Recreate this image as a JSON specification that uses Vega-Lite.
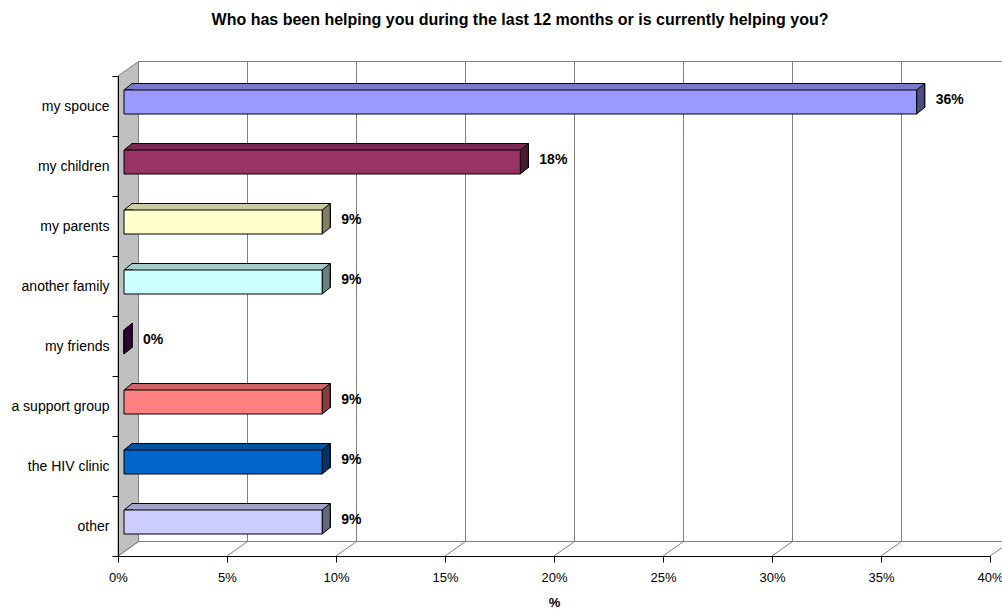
{
  "$schema": "https://vega.github.io/schema/vega-lite/v6.json",
  "width": 872,
  "height": 480,
  "autosize": {"type": "none"},
  "padding": {"left": 118, "top": 76, "right": 12, "bottom": 53},
  "background": "white",
  "title": {
    "text": "Who has been helping you during the last 12 months or is currently helping you?",
    "fontSize": 16, "fontWeight": "bold", "font": "Liberation Sans", "color": "black",
    "anchor": "middle", "frame": "group", "dx": -34, "offset": 32
  },
  "config": {"view": {"stroke": null}, "font": "Liberation Sans"},
  "datasets": {
    "answers": [
      {"who": "my spouce", "share": 0.3636},
      {"who": "my children", "share": 0.1818},
      {"who": "my parents", "share": 0.0909},
      {"who": "another family", "share": 0.0909},
      {"who": "my friends", "share": 0},
      {"who": "a support group", "share": 0.0909},
      {"who": "the HIV clinic", "share": 0.0909},
      {"who": "other", "share": 0.0909}
    ],
    "ticks": [
      {"t": 0}, {"t": 0.05}, {"t": 0.1}, {"t": 0.15}, {"t": 0.2},
      {"t": 0.25}, {"t": 0.3}, {"t": 0.35}, {"t": 0.4}
    ],
    "one": [{}]
  },
  "layer": [
    {
      "data": {"name": "answers"},
      "mark": {"type": "bar", "xOffset": 14, "x2Offset": 14, "yOffset": -10.5, "y2Offset": -10.5, "size": 24, "stroke": "black", "strokeWidth": 1},
      "encoding": {
        "x": {"field": "share", "type": "quantitative", "title": "%",
          "scale": {"domain": [0, 0.4], "nice": false, "zero": true},
          "axis": {"values": [0, 0.05, 0.1, 0.15, 0.2, 0.25, 0.3, 0.35, 0.4], "format": ".0%",
            "grid": false, "domainColor": "black", "tickColor": "black", "tickSize": 6,
            "labelFontSize": 13, "labelColor": "black", "labelPadding": 9, "labelFont": "Liberation Sans", "labelFlush": false,
            "titleFontSize": 13, "titleFontWeight": "bold", "titleColor": "black", "titleFont": "Liberation Sans", "titlePadding": 12,
            "zindex": 1}},
        "y": {"field": "who", "type": "nominal", "title": null,
          "sort": ["my spouce", "my children", "my parents", "another family", "my friends", "a support group", "the HIV clinic", "other"],
          "scale": {"paddingInner": 0, "paddingOuter": 0},
          "axis": {"tickBand": "extent", "tickSize": 6, "tickColor": "black", "domainColor": "black",
            "labelPadding": 3, "labelFontSize": 14, "labelColor": "black", "labelFont": "Liberation Sans", "zindex": 1, "grid": false}},
        "fill": {"field": "who", "type": "nominal", "legend": null,
          "scale": {"domain": ["my spouce", "my children", "my parents", "another family", "my friends", "a support group", "the HIV clinic", "other"],
            "range": ["#7A7ACC", "#7A2952", "#CCCCA3", "#A3CCCC", "#520052", "#CC6666", "#0052A3", "#A3A3CC"]}}
      }
    },
    {
      "data": {"name": "one"},
      "mark": {"type": "point", "shape": "M0,0L20.5,-14.5L20.5,-494.5L0,-480Z", "size": 4, "filled": true, "fill": "#C0C0C0", "stroke": "#808080", "strokeWidth": 1, "opacity": 1},
      "encoding": {
        "x": {"datum": 0, "type": "quantitative"},
        "y": {"value": "height"}
      }
    },
    {
      "data": {"name": "ticks"},
      "mark": {"type": "rule", "color": "#808080", "strokeWidth": 1, "xOffset": 20.5, "yOffset": -14.5, "y2Offset": -14.5},
      "encoding": {
        "x": {"field": "t", "type": "quantitative"},
        "y": {"value": 0},
        "y2": {"value": "height"}
      }
    },
    {
      "data": {"name": "ticks"},
      "mark": {"type": "rule", "color": "#808080", "strokeWidth": 1, "x2Offset": 20.5, "y2Offset": -14.5},
      "encoding": {
        "x": {"field": "t", "type": "quantitative"},
        "x2": {"field": "t"},
        "y": {"value": "height"},
        "y2": {"value": "height"}
      }
    },
    {
      "data": {"name": "one"},
      "mark": {"type": "rule", "color": "#808080", "strokeWidth": 1, "xOffset": 20.5, "x2Offset": 20.5, "yOffset": -14.5},
      "encoding": {
        "x": {"datum": 0, "type": "quantitative"},
        "x2": {"datum": 0.4},
        "y": {"value": 0}
      }
    },
    {
      "data": {"name": "one"},
      "mark": {"type": "rule", "color": "#808080", "strokeWidth": 1, "xOffset": 20.5, "x2Offset": 20.5, "yOffset": -14.5},
      "encoding": {
        "x": {"datum": 0, "type": "quantitative"},
        "x2": {"datum": 0.4},
        "y": {"value": "height"}
      }
    },
    {
      "data": {"name": "answers"},
      "mark": {"type": "bar", "xOffset": 14, "x2Offset": 14, "yOffset": -10.5, "y2Offset": -10.5, "size": 24, "stroke": "black", "strokeWidth": 1},
      "encoding": {
        "x": {"field": "share", "type": "quantitative"},
        "y": {"field": "who", "type": "nominal", "sort": ["my spouce", "my children", "my parents", "another family", "my friends", "a support group", "the HIV clinic", "other"]},
        "fill": {"field": "who", "type": "nominal", "legend": null,
          "scale": {"domain": ["my spouce", "my children", "my parents", "another family", "my friends", "a support group", "the HIV clinic", "other"],
            "range": ["#7A7ACC", "#7A2952", "#CCCCA3", "#A3CCCC", "#520052", "#CC6666", "#0052A3", "#A3A3CC"]}}
      }
    },
    {
      "data": {"name": "answers"},
      "mark": {"type": "point", "shape": "M15,-16L6,-16L14,-22.5L15,-22.5", "size": 4, "filled": true, "stroke": "black", "strokeWidth": 1, "opacity": 1},
      "encoding": {
        "x": {"datum": 0, "type": "quantitative"},
        "y": {"field": "who", "type": "nominal", "sort": ["my spouce", "my children", "my parents", "another family", "my friends", "a support group", "the HIV clinic", "other"]},
        "fill": {"field": "who", "type": "nominal", "legend": null,
          "scale": {"domain": ["my spouce", "my children", "my parents", "another family", "my friends", "a support group", "the HIV clinic", "other"],
            "range": ["#7A7ACC", "#7A2952", "#CCCCA3", "#A3CCCC", "#520052", "#CC6666", "#0052A3", "#A3A3CC"]}}
      }
    },
    {
      "data": {"name": "answers"},
      "mark": {"type": "point", "shape": "M6,-16L14,-22.5L14,1.5L6,8Z", "size": 4, "filled": true, "stroke": "black", "strokeWidth": 1, "opacity": 1},
      "encoding": {
        "x": {"field": "share", "type": "quantitative"},
        "y": {"field": "who", "type": "nominal", "sort": ["my spouce", "my children", "my parents", "another family", "my friends", "a support group", "the HIV clinic", "other"]},
        "fill": {"field": "who", "type": "nominal", "legend": null,
          "scale": {"domain": ["my spouce", "my children", "my parents", "another family", "my friends", "a support group", "the HIV clinic", "other"],
            "range": ["#4D4D80", "#4D1A33", "#808066", "#668080", "#330033", "#804040", "#003366", "#666680"]}}
      }
    },
    {
      "data": {"name": "answers"},
      "mark": {"type": "bar", "xOffset": 6, "x2Offset": 6, "yOffset": -4, "y2Offset": -4, "size": 24, "stroke": "black", "strokeWidth": 1},
      "encoding": {
        "x": {"field": "share", "type": "quantitative"},
        "y": {"field": "who", "type": "nominal", "sort": ["my spouce", "my children", "my parents", "another family", "my friends", "a support group", "the HIV clinic", "other"]},
        "fill": {"field": "who", "type": "nominal", "legend": null,
          "scale": {"domain": ["my spouce", "my children", "my parents", "another family", "my friends", "a support group", "the HIV clinic", "other"],
            "range": ["#9999FF", "#993366", "#FFFFCC", "#CCFFFF", "#660066", "#FF8080", "#0066CC", "#CCCCFF"]}}
      }
    },
    {
      "data": {"name": "answers"},
      "mark": {"type": "text", "align": "left", "baseline": "middle", "dx": 25, "dy": -6, "fontSize": 14, "fontWeight": "bold", "color": "black", "font": "Liberation Sans"},
      "encoding": {
        "x": {"field": "share", "type": "quantitative"},
        "y": {"field": "who", "type": "nominal", "sort": ["my spouce", "my children", "my parents", "another family", "my friends", "a support group", "the HIV clinic", "other"]},
        "text": {"field": "share", "type": "quantitative", "format": ".0%"}
      }
    }
  ],
  "resolve": {"scale": {"fill": "independent"}}
}
